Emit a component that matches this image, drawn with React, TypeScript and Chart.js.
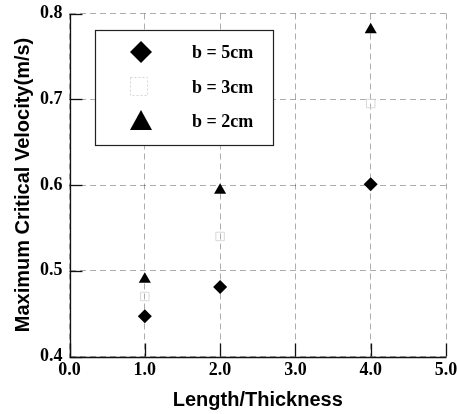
import React, { useEffect, useRef } from "react";
import { Chart, registerables } from "chart.js";

Chart.register(...registerables);

const xValues = [1, 2, 4];
const b5cm = [0.447, 0.481, 0.601];
const b3cm = [0.47, 0.54, 0.695];
const b2cm = [0.49, 0.594, 0.781];
const seriesLabels = ["b = 5cm", "b = 3cm", "b = 2cm"];
const xTicks = [0, 1, 2, 3, 4, 5];
const yTicks = [0.4, 0.5, 0.6, 0.7, 0.8];

const toPoints = (ys: number[]) => xValues.map((x, i) => ({ x, y: ys[i] }));

const innerTicks = {
  id: "innerTicks",
  afterDatasetsDraw(chart: any) {
    const { ctx, chartArea, scales } = chart;
    ctx.save();
    ctx.strokeStyle = "#111";
    ctx.lineWidth = 1.3;
    ctx.setLineDash([]);
    const L = Math.round(chartArea.left) + 0.5;
    const B = Math.round(chartArea.bottom) + 0.5;
    ctx.beginPath();
    ctx.moveTo(L, Math.round(chartArea.top));
    ctx.lineTo(L, B);
    ctx.lineTo(Math.round(chartArea.right) + 0.5, B);
    ctx.stroke();
    yTicks.forEach((v) => {
      const y = Math.round(scales.y.getPixelForValue(v)) + 0.5;
      ctx.beginPath();
      ctx.moveTo(chartArea.left, y);
      ctx.lineTo(chartArea.left + 13, y);
      ctx.stroke();
    });
    xTicks.forEach((v) => {
      const x = Math.round(scales.x.getPixelForValue(v)) + 0.5;
      ctx.beginPath();
      ctx.moveTo(x, chartArea.bottom);
      ctx.lineTo(x, chartArea.bottom - 13);
      ctx.stroke();
    });
    ctx.restore();
  },
};

const boxLegend = {
  id: "boxLegend",
  afterDraw(chart: any) {
    const { ctx } = chart;
    const bx = 95, by = 30, bw = 178, bh = 115;
    ctx.save();
    ctx.fillStyle = "#fff";
    ctx.fillRect(bx, by, bw, bh);
    ctx.strokeStyle = "#222";
    ctx.lineWidth = 1.2;
    ctx.setLineDash([]);
    ctx.strokeRect(bx + 0.5, by + 0.5, bw, bh);
    const mx = 141;
    const rows = [52, 87, 121];
    ctx.fillStyle = "#000";
    ctx.beginPath();
    ctx.moveTo(mx, rows[0] - 11);
    ctx.lineTo(mx + 11, rows[0]);
    ctx.lineTo(mx, rows[0] + 11);
    ctx.lineTo(mx - 11, rows[0]);
    ctx.closePath();
    ctx.fill();
    ctx.strokeStyle = "#d6d6d6";
    ctx.lineWidth = 1;
    ctx.setLineDash([2, 2]);
    ctx.strokeRect(130.5, rows[1] - 9.5, 17, 18);
    ctx.setLineDash([]);
    ctx.fillStyle = "#000";
    ctx.beginPath();
    ctx.moveTo(mx, rows[2] - 11);
    ctx.lineTo(mx + 11, rows[2] + 9);
    ctx.lineTo(mx - 11, rows[2] + 9);
    ctx.closePath();
    ctx.fill();
    ctx.font = "bold 18px 'Liberation Serif'";
    ctx.textBaseline = "middle";
    ctx.textAlign = "left";
    seriesLabels.forEach((t, i) => ctx.fillText(t, 192, rows[i] + 1));
    ctx.restore();
  },
};

export default function App() {
  const ref = useRef<HTMLCanvasElement | null>(null);
  useEffect(() => {
    if (!ref.current) return;
    const gridColor = "rgba(0,0,0,0.32)";
    const gridDash = [6, 4];
    const chart = new Chart(ref.current, {
      type: "scatter",
      data: {
        datasets: [
          {
            label: seriesLabels[0],
            data: toPoints(b5cm),
            pointStyle: "rectRot",
            pointRadius: 7,
            backgroundColor: "#000",
            borderColor: "#000",
            borderWidth: 0,
          },
          {
            label: seriesLabels[1],
            data: toPoints(b3cm),
            pointStyle: "rect",
            pointRadius: 6,
            backgroundColor: "rgba(0,0,0,0)",
            borderColor: "#d8d8d8",
            borderWidth: 1,
          },
          {
            label: seriesLabels[2],
            data: toPoints(b2cm),
            pointStyle: "triangle",
            pointRadius: 7,
            backgroundColor: "#000",
            borderColor: "#000",
            borderWidth: 0,
          },
        ],
      },
      options: {
        responsive: false,
        animation: false,
        layout: { padding: { top: 13.5, right: 11, left: 0, bottom: 0 } },
        plugins: { legend: { display: false }, tooltip: { enabled: false } },
        scales: {
          x: {
            type: "linear",
            min: 0,
            max: 5,
            afterFit: (s: any) => {
              s.height = 57.5;
              s.paddingRight = 0;
              s.paddingLeft = 0;
            },
            afterBuildTicks: (s: any) => {
              s.ticks = xTicks.map((v) => ({ value: v }));
            },
            ticks: {
              color: "#000",
              font: { family: "'Liberation Serif'", size: 18, weight: "bold" },
              padding: 3,
              maxRotation: 0,
              autoSkip: false,
              callback: (v: any) => Number(v).toFixed(1),
            },
            grid: { color: gridColor, lineWidth: 1, drawTicks: false },
            border: { display: false, dash: gridDash },
            title: {
              display: true,
              text: "Length/Thickness",
              color: "#000",
              font: { family: "'Liberation Sans'", size: 20, weight: "bold" },
              padding: { top: 0, bottom: 2 },
            },
          },
          y: {
            type: "linear",
            min: 0.4,
            max: 0.8,
            afterFit: (s: any) => {
              s.width = 69.5;
              s.paddingTop = 0;
              s.paddingBottom = 0;
            },
            afterBuildTicks: (s: any) => {
              s.ticks = yTicks.map((v) => ({ value: v }));
            },
            ticks: {
              color: "#000",
              font: { family: "'Liberation Serif'", size: 18, weight: "bold" },
              padding: 7,
              autoSkip: false,
              callback: (v: any) => Number(v).toFixed(1),
            },
            grid: { color: gridColor, lineWidth: 1, drawTicks: false },
            border: { display: false, dash: gridDash },
            title: {
              display: true,
              text: "Maximum Critical Velocity(m/s)",
              color: "#000",
              font: { family: "'Liberation Sans'", size: 20, weight: "bold" },
              padding: { top: 11, bottom: 0 },
            },
          },
        },
      },
      plugins: [innerTicks, boxLegend],
    } as any);
    return () => chart.destroy();
  }, []);
  return (
    <div style={{ position: "absolute", left: 0, top: 0, width: 457, height: 414, background: "#fff" }}>
      <canvas ref={ref} width={457} height={414} style={{ display: "block" }} />
    </div>
  );
}
